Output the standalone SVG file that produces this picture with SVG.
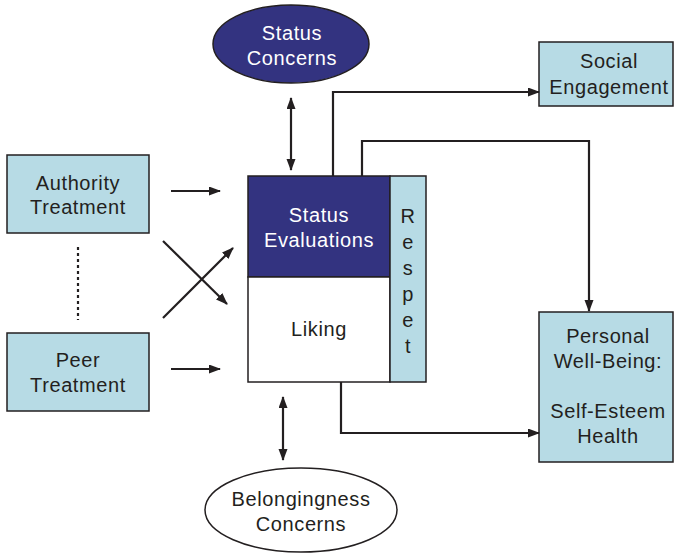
<svg xmlns="http://www.w3.org/2000/svg" width="674" height="556" viewBox="0 0 674 556">
<style>
text{font-family:"Liberation Sans",Arial,sans-serif;font-size:20px;letter-spacing:0.6px;fill:#231f20;text-anchor:middle}
.w{fill:#ffffff}
.lb{fill:#b7dbe5;stroke:#231f20;stroke-width:1.5}
.nv{fill:#333380;stroke:#231f20;stroke-width:1.5}
.wh{fill:#ffffff;stroke:#231f20;stroke-width:1.5}
.c{fill:none;stroke:#231f20;stroke-width:2.2}
</style>
<defs>
<marker id="ah" markerUnits="userSpaceOnUse" markerWidth="12" markerHeight="10" refX="11" refY="4.5" orient="auto-start-reverse">
<path d="M0,0 L12,4.5 L0,9 z" fill="#231f20"/>
</marker>
</defs>
<rect width="674" height="556" fill="#ffffff"/>
<g id="status-concerns">
<ellipse cx="291" cy="44" rx="78" ry="39" class="nv"/>
<text class="w" x="292" y="40">Status</text>
<text class="w" x="292" y="65">Concerns</text>
</g>
<g id="social-engagement">
<rect x="539" y="42" width="134" height="64" class="lb"/>
<text x="609" y="68">Social</text>
<text x="609" y="94">Engagement</text>
</g>
<g id="authority-treatment">
<rect x="7" y="155" width="142" height="78" class="lb"/>
<text x="78" y="190">Authority</text>
<text x="78" y="214">Treatment</text>
</g>
<g id="peer-treatment">
<rect x="7" y="333" width="142" height="78" class="lb"/>
<text x="78" y="367">Peer</text>
<text x="78" y="392">Treatment</text>
</g>
<g id="status-evaluations">
<rect x="248" y="176" width="142" height="101" class="nv"/>
<text class="w" x="319" y="222">Status</text>
<text class="w" x="319" y="247">Evaluations</text>
</g>
<g id="liking">
<rect x="248" y="277" width="142" height="105" class="wh"/>
<text x="319" y="336">Liking</text>
</g>
<g id="respet">
<rect x="390" y="176" width="36" height="206" class="lb"/>
<text x="408" y="223">R</text>
<text x="408" y="249">e</text>
<text x="408" y="275">s</text>
<text x="408" y="301">p</text>
<text x="408" y="327">e</text>
<text x="408" y="353">t</text>
</g>
<g id="personal-well-being">
<rect x="539" y="312" width="134" height="150" class="lb"/>
<text x="608" y="343">Personal</text>
<text x="608" y="368">Well-Being:</text>
<text x="608" y="418">Self-Esteem</text>
<text x="608" y="443">Health</text>
</g>
<g id="belongingness-concerns">
<ellipse cx="301" cy="510" rx="96" ry="42" class="wh"/>
<text x="301" y="506">Belongingness</text>
<text x="301" y="531">Concerns</text>
</g>
<g id="connectors">
<line x1="78" y1="247" x2="78" y2="320" stroke="#231f20" stroke-width="2.2" stroke-dasharray="3,3"/>
<line x1="171" y1="191" x2="220" y2="191" class="c" marker-end="url(#ah)"/>
<line x1="171" y1="369" x2="220" y2="369" class="c" marker-end="url(#ah)"/>
<line x1="163" y1="241" x2="227" y2="304" class="c" marker-end="url(#ah)"/>
<line x1="163" y1="318" x2="233" y2="248" class="c" marker-end="url(#ah)"/>
<line x1="291" y1="98" x2="291" y2="170" class="c" marker-start="url(#ah)" marker-end="url(#ah)"/>
<line x1="283" y1="397" x2="283" y2="460" class="c" marker-start="url(#ah)" marker-end="url(#ah)"/>
<polyline points="333,176 333,92 539,92" class="c" marker-end="url(#ah)"/>
<polyline points="362,176 362,141 589,141 589,311" class="c" marker-end="url(#ah)"/>
<polyline points="341,382 341,433 539,433" class="c" marker-end="url(#ah)"/>
</g>
</svg>
